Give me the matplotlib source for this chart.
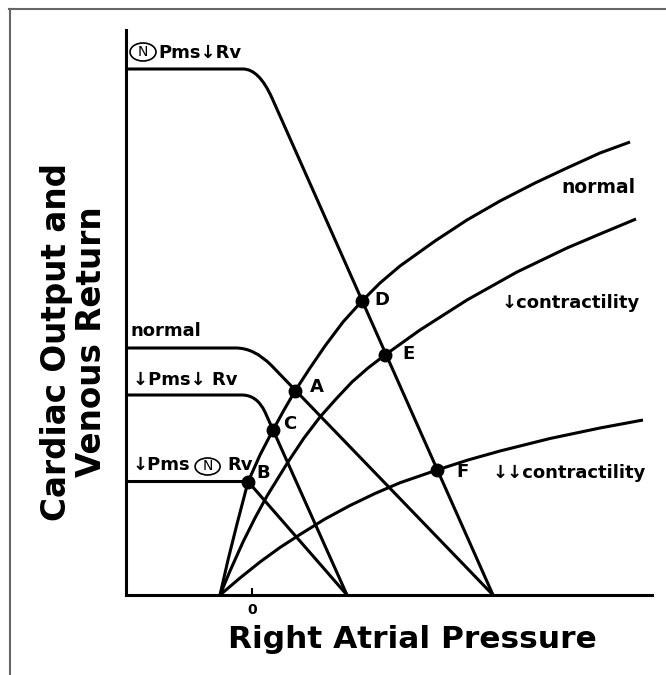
import matplotlib
matplotlib.use("Agg")
import matplotlib.pyplot as plt
from matplotlib.path import Path
from matplotlib.patches import PathPatch, Ellipse
from matplotlib.lines import Line2D

# cardiac output curves (right atrial pressure -> output)
co_normal_x = [-1.6, -1.2, -0.75, -0.2, 0.4, 1.05, 1.6, 2.15, 2.9, 3.65, 4.55, 5.5, 6.4, 7.4,
               9.15, 10.75, 12.4, 14.15, 15.75, 17.4, 18.9]
co_normal_y = [0, 0.7, 1.42, 2.26, 2.8, 3.3, 3.7, 4.08, 4.54, 4.98, 5.46, 5.88, 6.24, 6.58,
               7.08, 7.5, 7.88, 8.24, 8.54, 8.84, 9.06]
co_low_x = [-1.6, -1.1, -0.45, 0.15, 0.75, 1.8, 2.6, 3.4, 4.2, 5.0, 5.8, 6.65, 8.4, 10.75,
            13.25, 15.75, 17.4, 19.2]
co_low_y = [0, 0.48, 1.06, 1.54, 1.98, 2.66, 3.14, 3.56, 3.92, 4.26, 4.54, 4.8, 5.3, 5.9,
            6.46, 6.94, 7.22, 7.52]
co_vlow_x = [-1.6, -0.6, 0.4, 1.4, 2.4, 3.65, 4.9, 6.15, 7.4, 9.25, 10.8, 12.4, 14.9, 17.4, 19.55]
co_vlow_y = [0, 0.34, 0.66, 0.95, 1.21, 1.52, 1.79, 2.03, 2.245, 2.5, 2.7, 2.88, 3.13, 3.34, 3.5]

# venous return curves: plateau, bend start, corner, bend end, mean systemic pressure
vr_top_x = [-6.3, -0.45, 0.35, 1.0, 12.05]
vr_top_y = [10.52, 10.52, 10.52, 9.94, 0]
vr_normal_x = [-6.3, -0.8, 0.1, 0.95, 12.05]
vr_normal_y = [4.94, 4.94, 4.94, 4.6, 0]
vr_lowrv_x = [-6.3, -0.5, 0.25, 0.65, 4.75]
vr_lowrv_y = [4.0, 4.0, 4.0, 3.66, 0]
vr_low_x = [-6.3, -0.2, 4.75]
vr_low_y = [2.27, 2.27, 0]

# equilibrium points
pt_names = ['A', 'B', 'C', 'D', 'E', 'F']
pt_x = [2.15, -0.2, 1.05, 5.5, 6.65, 9.25]
pt_y = [4.08, 2.27, 3.3, 5.88, 4.8, 2.5]
pt_off = [(22, 4), (15, 9), (17, 6), (20, 1), (23, 1), (25, -2)]

LW = 2.2
BOLD = dict(fontfamily='DejaVu Sans', fontweight='bold', color='black')

fig = plt.figure(figsize=(6.66, 6.75), dpi=100)
ax = fig.add_axes([126/666, 1-595/675, 526/666, 565/675])
ax.set_xlim(-6.3, 20)
ax.set_ylim(0, 11.3)

for xs, ys in [(co_normal_x, co_normal_y), (co_low_x, co_low_y), (co_vlow_x, co_vlow_y)]:
    ax.plot(xs, ys, color='black', lw=LW, solid_capstyle='butt', solid_joinstyle='round')

codes = [Path.MOVETO, Path.LINETO, Path.CURVE3, Path.CURVE3, Path.LINETO]
for xs, ys in [(vr_top_x, vr_top_y), (vr_normal_x, vr_normal_y), (vr_lowrv_x, vr_lowrv_y)]:
    p = Path(list(zip(xs, ys)), codes)
    ax.add_patch(PathPatch(p, fill=False, lw=LW, edgecolor='black'))
ax.plot(vr_low_x, vr_low_y, color='black', lw=LW)

ax.plot(pt_x, pt_y, 'o', color='black', ms=9, zorder=5)
for n, x, y, off in zip(pt_names, pt_x, pt_y, pt_off):
    ax.annotate(n, (x, y), xytext=off, textcoords='offset pixels',
                ha='center', va='center', fontsize=13, **BOLD)

# curve labels
ax.text(-4.7, 10.74, 'Pms\u2193Rv', fontsize=13, va='baseline', **BOLD)
ax.add_patch(Ellipse((-5.45, 10.86), 1.3, 0.36, fill=False, lw=1.2, color='black'))
ax.text(-5.45, 10.86, 'N', fontsize=10, ha='center', va='center', fontfamily='DejaVu Sans')

ax.text(-6.1, 5.18, 'normal', fontsize=13, va='baseline', **BOLD)
ax.text(-5.95, 4.2, '\u2193Pms\u2193 Rv', fontsize=13, va='baseline', **BOLD)
ax.text(-5.95, 2.5, '\u2193Pms', fontsize=13, va='baseline', **BOLD)
ax.add_patch(Ellipse((-2.22, 2.57), 1.25, 0.34, fill=False, lw=1.2, color='black'))
ax.text(-2.22, 2.57, 'N', fontsize=10, ha='center', va='center', fontfamily='DejaVu Sans')
ax.text(-1.25, 2.5, 'Rv', fontsize=13, va='baseline', **BOLD)

ax.text(15.45, 8.04, 'normal', fontsize=13.5, va='baseline', **BOLD)
ax.text(12.5, 5.74, '\u2193contractility', fontsize=13, va='baseline', **BOLD)
ax.text(12.05, 2.34, '\u2193\u2193contractility', fontsize=13, va='baseline', **BOLD)

for s in ['top', 'right']:
    ax.spines[s].set_visible(False)
for s in ['left', 'bottom']:
    ax.spines[s].set_linewidth(LW)
ax.set_yticks([])
ax.set_xticks([0])
ax.set_xticklabels(['0'], fontsize=10, fontweight='bold')
ax.tick_params(axis='x', direction='in', length=5, width=1.5, pad=5.5)

fig.text(412/666, 1-648/675, 'Right Atrial Pressure', fontsize=22.5, ha='center', va='baseline', **BOLD)
fig.text(74/666, 1-342/675, 'Cardiac Output and\nVenous Return', fontsize=23.5, rotation=90,
         ha='center', va='center', multialignment='center', linespacing=1.1, **BOLD)

fig.add_artist(Line2D([9/666, 1], [1-9/675, 1-9/675], transform=fig.transFigure, color='#666666', lw=1.5))
fig.add_artist(Line2D([10/666, 10/666], [0, 1-9/675], transform=fig.transFigure, color='#666666', lw=1.5))

fig.savefig('out.png', dpi=100)
